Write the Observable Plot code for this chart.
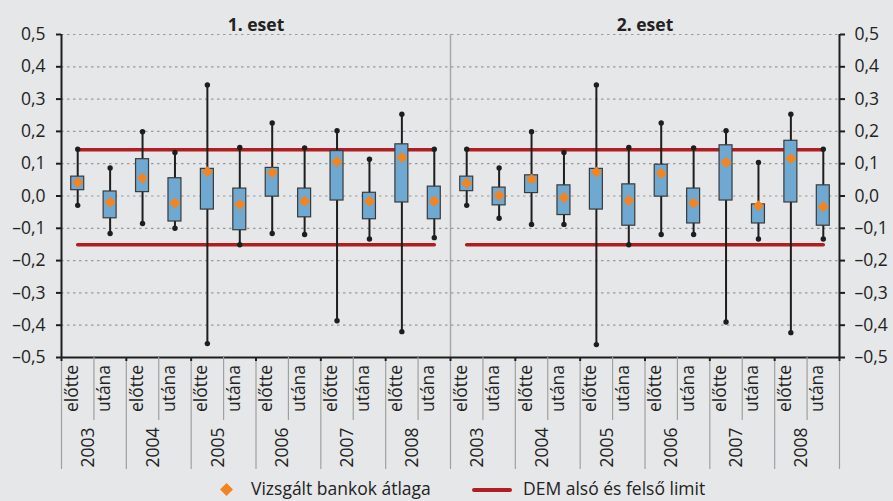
<!DOCTYPE html>
<html>
<head>
<meta charset="utf-8">
<script src="https://cdn.jsdelivr.net/npm/d3@7"></script>
<script src="https://cdn.jsdelivr.net/npm/@observablehq/plot@0.6"></script>
<style>
  html, body { margin: 0; padding: 0; background: #e6e7e8; width: 893px; height: 501px; overflow: hidden; }
  body { font-family: "Open Sans", sans-serif; color: #222; }
  #legend { position: relative; height: 25px; font-size: 17.5px; }
  #legend .t { position: absolute; top: 2px; line-height: 21px; white-space: nowrap; color: #222; }
</style>
</head>
<body>
<div id="chart"></div>
<div id="legend">
  <svg style="position:absolute;left:220px;top:7px" width="13" height="13"><path d="M6.5 0L13 6.5L6.5 13L0 6.5Z" fill="#f28522"/></svg>
  <span class="t" style="left:251px">Vizsgált bankok átlaga</span>
  <svg style="position:absolute;left:472px;top:12px" width="40" height="4"><rect x="0" y="0" width="40" height="4" rx="2" fill="#b01e23"/></svg>
  <span class="t" style="left:523px">DEM alsó és felső limit</span>
</div>
<script>
// ---- data ----
const panels = ["1. eset", "2. eset"];
const years = ["2003", "2004", "2005", "2006", "2007", "2008"];
const phases = ["előtte", "utána"];

const yTickValues = [-0.5, -0.4, -0.3, -0.2, -0.1, 0, 0.1, 0.2, 0.3, 0.4, 0.5];
const yTickLabels = ["–0,5", "–0,4", "–0,3", "–0,2", "–0,1", "0,0", "0,1", "0,2", "0,3", "0,4", "0,5"];
const gridValues = [-0.4, -0.3, -0.2, -0.1, 0, 0.1, 0.2, 0.3, 0.4, 0.5];

// DEM lower / upper limit per panel
const limitUpper = [0.143, 0.143];
const limitLower = [-0.151, -0.151];

// panel 1 (order: 2003 előtte, 2003 utána, 2004 előtte, ...)
const high1 = [0.145, 0.087, 0.199, 0.135, 0.344, 0.150, 0.226, 0.149, 0.202, 0.114, 0.253, 0.145];
const q3_1  = [0.060, 0.014, 0.114, 0.055, 0.084, 0.023, 0.087, 0.023, 0.139, 0.010, 0.160, 0.029];
const q1_1  = [0.018, -0.069, 0.012, -0.079, -0.042, -0.106, -0.002, -0.066, -0.014, -0.072, -0.020, -0.072];
const low1  = [-0.029, -0.116, -0.085, -0.100, -0.457, -0.151, -0.116, -0.119, -0.386, -0.133, -0.420, -0.129];
const mean1 = [0.042, -0.019, 0.055, -0.022, 0.075, -0.026, 0.072, -0.016, 0.106, -0.016, 0.119, -0.016];

// panel 2
const high2 = [0.145, 0.087, 0.199, 0.135, 0.344, 0.150, 0.226, 0.149, 0.202, 0.104, 0.253, 0.145];
const q3_2  = [0.060, 0.026, 0.064, 0.033, 0.084, 0.036, 0.097, 0.023, 0.157, -0.026, 0.171, 0.033];
const q1_2  = [0.015, -0.029, 0.009, -0.059, -0.042, -0.092, -0.002, -0.085, -0.014, -0.085, -0.020, -0.092];
const low2  = [-0.029, -0.069, -0.088, -0.088, -0.460, -0.151, -0.119, -0.119, -0.390, -0.133, -0.423, -0.133];
const mean2 = [0.040, 0.002, 0.052, -0.005, 0.074, -0.014, 0.070, -0.022, 0.104, -0.030, 0.116, -0.033];

// ---- build tables ----
const highs = [high1, high2], q3s = [q3_1, q3_2], q1s = [q1_1, q1_2], lows = [low1, low2], means = [mean1, mean2];
const rows = [];
panels.forEach((panel, p) => {
  years.forEach((year, j) => {
    phases.forEach((phase, k) => {
      const n = j * 2 + k;
      rows.push({
        panel, year, phase,
        x: p * 12 + n + 0.5,
        high: highs[p][n], q3: q3s[p][n], q1: q1s[p][n], low: lows[p][n], mean: means[p][n],
        upper: limitUpper[p], lower: limitLower[p]
      });
    });
  });
});
const yearRows = panels.flatMap((panel, p) => years.map((year, j) => ({panel, year, x: p * 12 + j * 2 + 1})));
const yearBounds = d3.range(0, 25, 2);
const phaseBounds = d3.range(1, 24, 2);

const red = "#b01e23", blue = "#6fa8d0", orange = "#f28522", ink = "#1e1e1e";
const fmt = d => yTickLabels[yTickValues.findIndex(v => Math.abs(v - d) < 1e-9)];

const chart = Plot.plot({
  width: 893,
  height: 476,
  marginLeft: 61,
  marginRight: 54,
  marginTop: 34,
  marginBottom: 119,
  style: {background: "transparent", fontFamily: "Open Sans", fontSize: "17px", color: "#222"},
  x: {type: "linear", domain: [0, 24], axis: null},
  y: {domain: [-0.5, 0.5], axis: null},
  marks: [
    Plot.ruleY(gridValues, {y: d => d, stroke: "#9a9a9a", strokeWidth: 1.2, strokeDasharray: "2.5,3.5"}),
    Plot.ruleX([12], {x: d => d, stroke: "#a8a8a8", strokeWidth: 1.5}),
    Plot.lineY(rows, {x: "x", y: "upper", z: "panel", stroke: red, strokeWidth: 3.6}),
    Plot.lineY(rows, {x: "x", y: "lower", z: "panel", stroke: red, strokeWidth: 3.6}),
    Plot.ruleX(rows, {x: "x", y1: "low", y2: "high", stroke: ink, strokeWidth: 2}),
    Plot.dot(rows, {x: "x", y: "high", r: 2.7, fill: ink}),
    Plot.dot(rows, {x: "x", y: "low", r: 2.7, fill: ink}),
    Plot.rect(rows, {x1: d => d.x - 0.2, x2: d => d.x + 0.2, y1: "q1", y2: "q3", fill: blue, stroke: "#3a3a3a", strokeWidth: 1.2}),
    Plot.dot(rows, {x: "x", y: "mean", symbol: "diamond2", r: 5, fill: orange}),
    Plot.ruleY([-0.5], {y: d => d, stroke: ink, strokeWidth: 2}),
    Plot.ruleX([0, 24], {x: d => d, stroke: ink, strokeWidth: 2}),
    Plot.axisY({anchor: "left", ticks: yTickValues, tickFormat: fmt, tickSize: 5, tickPadding: 11, fontSize: 17.5, stroke: ink, strokeWidth: 2, label: null}),
    Plot.axisY({anchor: "right", ticks: yTickValues, tickFormat: fmt, tickSize: 5, tickPadding: 10, fontSize: 17.5, stroke: ink, strokeWidth: 2, label: null}),
    Plot.ruleX(yearBounds, {x: d => d, y1: -0.5, y2: -0.5, insetBottom: -112, stroke: "#a0a0a0", strokeWidth: 1.2}),
    Plot.ruleX(phaseBounds, {x: d => d, y1: -0.5, y2: -0.5, insetBottom: -63, stroke: "#a0a0a0", strokeWidth: 1.2}),
    Plot.ruleX(yearBounds, {x: d => d, y1: -0.5, y2: -0.5, insetBottom: -4, stroke: ink, strokeWidth: 2}),
    Plot.text(rows, {x: "x", text: "phase", frameAnchor: "bottom", dy: 31, rotate: -90, fontSize: 17.5, fill: "#222"}),
    Plot.text(yearRows, {x: "x", text: "year", frameAnchor: "bottom", dy: 90, rotate: -90, fontSize: 17.5, fill: "#222"}),
    Plot.text(panels, {x: (d, i) => i * 12 + 6, text: d => d, frameAnchor: "top", dy: -16, fontSize: 17.5, fontWeight: "bold", fill: "#222"})
  ]
});
document.getElementById("chart").appendChild(chart);
</script>
</body>
</html>
